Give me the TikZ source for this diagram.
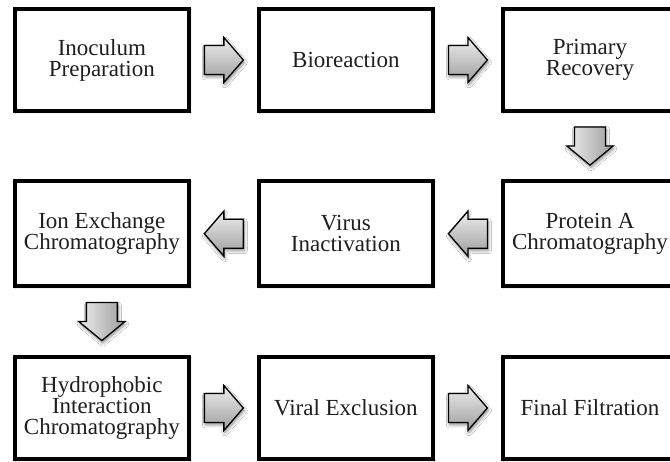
\documentclass[tikz,border=0pt]{standalone}
\usepackage{fontspec}
\setmainfont{Liberation Serif}
\usetikzlibrary{calc,shadows.blur}

\tikzset{
  stage/.style={
    draw=black, line width=3.8pt, fill=white, inner sep=0pt,
    minimum width=174.5pt, minimum height=102.2pt,
    align=center, text=black!88,
    font=\fontsize{23}{21}\selectfont,
    blur shadow={shadow xshift=1.2pt, shadow yshift=-1.2pt,
      shadow blur radius=1.5pt, shadow blur steps=4, shadow opacity=40}},
  tallstage/.style={stage, minimum height=105.2pt},
  flowarrow/.style={
    draw=black, line width=1.3pt, line join=miter,
    blur shadow={shadow xshift=1pt, shadow yshift=-2.5pt,
      shadow blur radius=3pt, shadow blur steps=6, shadow opacity=45}},
  hshade/.style={top color=black!7, bottom color=black!38},
  vshade/.style={left color=black!7, right color=black!38},
  pics/arrowright/.style={code={
    \path[flowarrow,hshade] (-19.5,-14.5) -- (0,-14.5) -- (0,-22.5) -- (19.5,0)
      -- (0,22.5) -- (0,14.5) -- (-19.5,14.5) -- cycle;}},
  pics/arrowleft/.style={code={
    \path[flowarrow,hshade] (19.5,-14.5) -- (0,-14.5) -- (0,-22.5) -- (-19.5,0)
      -- (0,22.5) -- (0,14.5) -- (19.5,14.5) -- cycle;}},
  pics/arrowdown/.style={code={
    \path[flowarrow,vshade] (-15.5,19) -- (-15.5,0) -- (-23,0) -- (0,-19)
      -- (23,0) -- (15.5,0) -- (15.5,19) -- cycle;}},
}

\begin{document}
\begin{tikzpicture}[x=1pt,y=1pt]
\useasboundingbox (0,0) rectangle (670,462);
\fill[white] (0,0) rectangle (670,462);

% first row: upstream steps
\node[stage] (inoc) at (101.85,402) {Inoculum\\Preparation};
\node[stage] (bio)  at (345.85,402) {Bioreaction};
\node[stage] (prim) at (590,402)    {Primary\\Recovery};

% second row: capture and inactivation, running right to left
\node[tallstage] (protA) at (590,228.3)    {Protein A\\Chromatography};
\node[tallstage] (virus) at (345.85,228.3) {Virus\\Inactivation};
\node[tallstage] (ionex) at (101.85,228.3) {Ion Exchange\\Chromatography};

% third row: polishing and filtration
\node[stage] (hic)   at (101.85,54) {Hydrophobic\\Interaction\\Chromatography};
\node[stage] (viral) at (345.85,54) {Viral Exclusion};
\node[stage] (final) at (590,54)    {Final Filtration};

% block arrows between consecutive steps
\pic at ($(inoc.east)!0.5!(bio.west)$) {arrowright};
\pic at ($(bio.east)!0.5!(prim.west)$) {arrowright};
\pic at ($(prim.south)!0.5!(protA.north)$) {arrowdown};
\pic at ($(protA.west)!0.5!(virus.east)$) {arrowleft};
\pic at ($(virus.west)!0.5!(ionex.east)$) {arrowleft};
\pic at ($(ionex.south)!0.5!(hic.north)$) {arrowdown};
\pic at ($(hic.east)!0.5!(viral.west)$) {arrowright};
\pic at ($(viral.east)!0.5!(final.west)$) {arrowright};
\end{tikzpicture}
\end{document}
